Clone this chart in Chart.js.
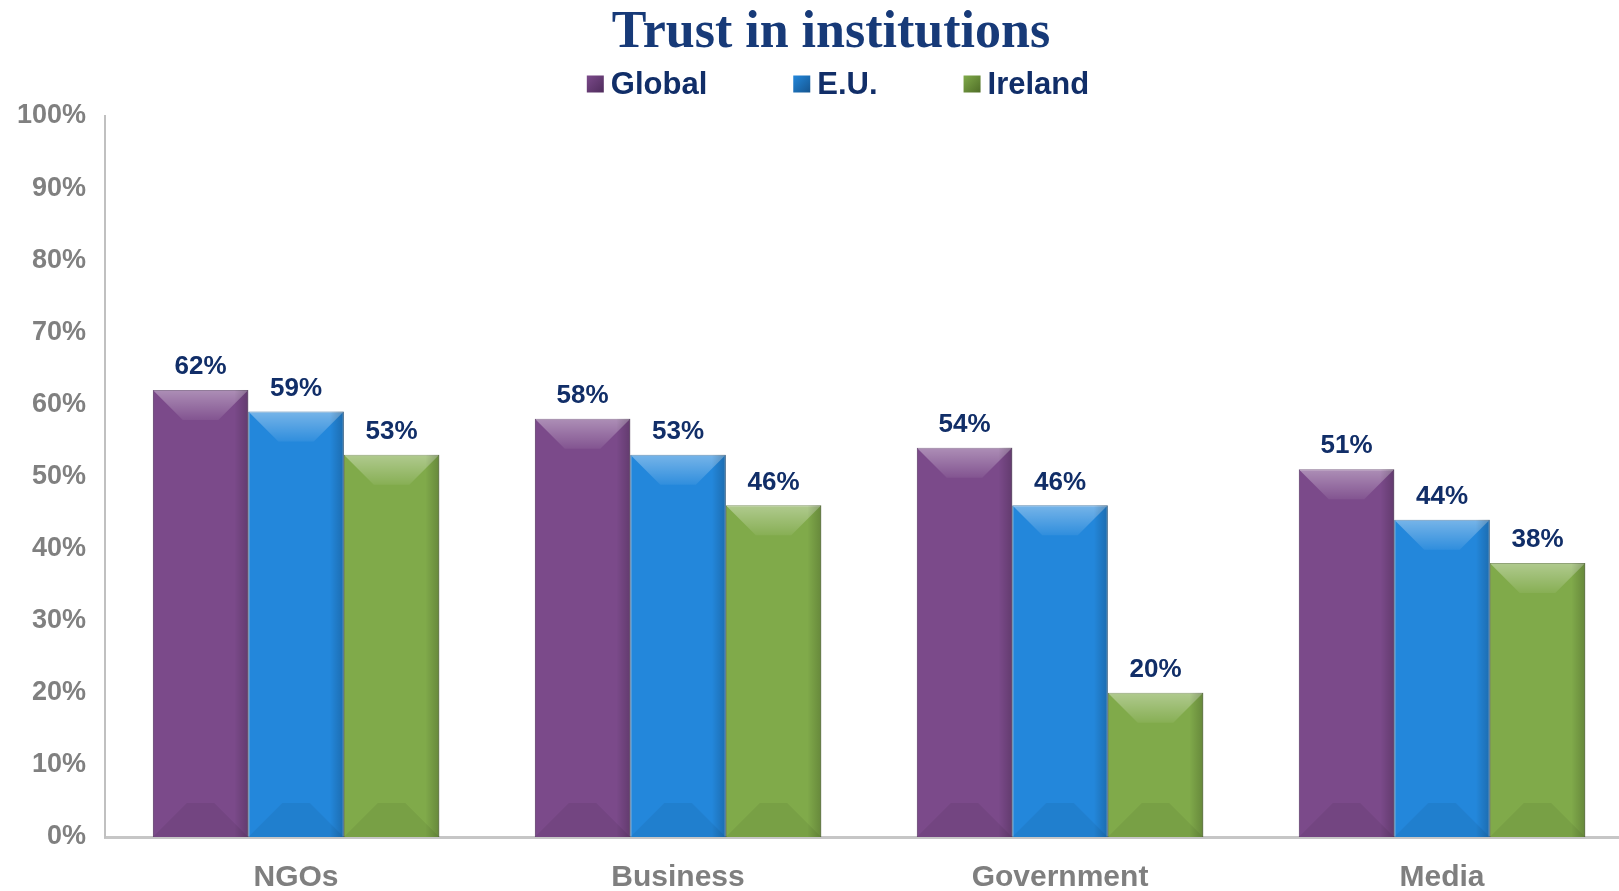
<!DOCTYPE html>
<html>
<head>
<meta charset="utf-8">
<title>Trust in institutions</title>
<script src="https://cdn.jsdelivr.net/npm/chart.js@4.4.1/dist/chart.umd.min.js"></script>
<style>
  html, body { margin: 0; padding: 0; overflow: hidden; background: #fff; }
  #wrap { position: absolute; left: 0; top: 0; width: 1640px; height: 919px; }
</style>
</head>
<body>
<div id="wrap"><canvas id="trustChart"></canvas></div>
<script>
// Survey results, % trusting each institution
const categories = ['NGOs', 'Business', 'Government', 'Media'];
const seriesNames = ['Global', 'E.U.', 'Ireland'];
const globalValues = [62, 58, 54, 51];
const euValues = [59, 53, 46, 44];
const irelandValues = [53, 46, 20, 38];
const yTickValues = [0, 10, 20, 30, 40, 50, 60, 70, 80, 90, 100];
const chartTitle = 'Trust in institutions';

const fills = ['#7b4a8a', '#2387db', '#80aa4a'];
const edges = ['#4f2c5c', '#15558f', '#4f6d27'];
const navy = '#112e68';

// bevel look: lighter top face, darker bottom face, shaded right edge
const bevelPlugin = {
    id: 'bevel',
    afterDatasetsDraw(chart) {
        const ctx = chart.ctx;
        ctx.save();
        chart.data.datasets.forEach((ds, i) => {
            chart.getDatasetMeta(i).data.forEach(bar => {
                const { x, y, base, width } = bar.getProps(['x', 'y', 'base', 'width'], true);
                const l = x - width / 2, r = x + width / 2;
                const h = base - y;
                const d = Math.min(30, h / 2);

                let g = ctx.createLinearGradient(0, y, 0, y + d);
                g.addColorStop(0, 'rgba(255,255,255,0.38)');
                g.addColorStop(1, 'rgba(255,255,255,0.06)');
                ctx.fillStyle = g;
                ctx.beginPath();
                ctx.moveTo(l, y); ctx.lineTo(r, y);
                ctx.lineTo(r - d, y + d); ctx.lineTo(l + d, y + d);
                ctx.closePath(); ctx.fill();

                const b = Math.min(34, h / 2);
                ctx.fillStyle = 'rgba(0,0,0,0.06)';
                ctx.beginPath();
                ctx.moveTo(l, base); ctx.lineTo(r, base);
                ctx.lineTo(r - b, base - b); ctx.lineTo(l + b, base - b);
                ctx.closePath(); ctx.fill();

                g = ctx.createLinearGradient(r - 14, 0, r, 0);
                g.addColorStop(0, 'rgba(0,0,0,0)');
                g.addColorStop(1, 'rgba(0,0,0,0.2)');
                ctx.fillStyle = g;
                ctx.fillRect(r - 14, y, 14, h);
            });
        });
        ctx.restore();
    }
};

// value labels above each bar
const valueLabels = {
    id: 'valueLabels',
    afterDatasetsDraw(chart) {
        const ctx = chart.ctx;
        ctx.save();
        ctx.font = 'bold 26px "Liberation Sans", Arial, sans-serif';
        ctx.fillStyle = navy;
        ctx.textAlign = 'center';
        ctx.textBaseline = 'middle';
        chart.data.datasets.forEach((ds, i) => {
            chart.getDatasetMeta(i).data.forEach((bar, j) => {
                ctx.fillText(ds.data[j] + '%', bar.x, bar.y - 23);
            });
        });
        ctx.restore();
    }
};

// title and legend row above the plot
const header = {
    id: 'header',
    afterDraw(chart) {
        const ctx = chart.ctx;
        const cx = 831;
        ctx.save();
        ctx.font = 'bold 52px "Liberation Serif", "Times New Roman", serif';
        ctx.fillStyle = '#173a78';
        ctx.textAlign = 'center';
        ctx.textBaseline = 'alphabetic';
        ctx.fillText(chartTitle, cx, 47);

        const box = 17, textGap = 7, itemGap = 86, cy = 84;
        ctx.textAlign = 'left';
        ctx.textBaseline = 'middle';
        ctx.font = 'bold 31px "Liberation Sans", Arial, sans-serif';
        const items = chart.data.datasets.map((ds, i) => ({
            text: ds.label, color: fills[i], edge: edges[i],
            w: box + textGap + ctx.measureText(ds.label).width
        }));
        const total = items.reduce((s, it) => s + it.w, 0) + itemGap * (items.length - 1);
        let x = cx + 7 - total / 2;
        items.forEach(it => {
            const g = ctx.createLinearGradient(x, cy - box / 2, x + box, cy + box / 2);
            g.addColorStop(0, it.color);
            g.addColorStop(1, it.edge);
            ctx.fillStyle = g;
            ctx.fillRect(x, cy - box / 2, box, box);
            ctx.fillStyle = navy;
            ctx.fillText(it.text, x + box + textGap, cy + 1);
            x += it.w + itemGap;
        });
        ctx.restore();
    }
};

const ctx = document.getElementById('trustChart').getContext('2d');
new Chart(ctx, {
    type: 'bar',
    data: {
        labels: categories,
        datasets: [globalValues, euValues, irelandValues].map((vals, i) => ({
            label: seriesNames[i],
            data: vals,
            backgroundColor: fills[i],
            borderColor: edges[i],
            borderWidth: 1,
            borderSkipped: 'bottom',
            barPercentage: 1,
            categoryPercentage: 0.75
        }))
    },
    options: {
        responsive: true,
        maintainAspectRatio: false,
        animation: false,
        layout: { padding: { top: 116, left: -2, right: 7, bottom: 0 } },
        plugins: {
            legend: { display: false },
            tooltip: { enabled: false },
            title: { display: false }
        },
        scales: {
            x: {
                grid: { display: false, drawTicks: false },
                border: { display: true, color: '#c6c6c6', width: 3 },
                ticks: {
                    color: '#7f7f7f',
                    padding: 23,
                    font: { family: '"Liberation Sans", Arial, sans-serif', size: 30, weight: 'bold', lineHeight: 1.2 }
                }
            },
            y: {
                min: 0,
                max: 100,
                afterBuildTicks(scale) { scale.ticks = yTickValues.map(v => ({ value: v })); },
                grid: { display: false, drawTicks: false },
                border: { display: true, color: '#c0c0c0', width: 2 },
                ticks: {
                    color: '#808080',
                    padding: 19,
                    font: { family: '"Liberation Sans", Arial, sans-serif', size: 27, weight: 'bold' },
                    callback: v => v + '%'
                }
            }
        }
    },
    plugins: [bevelPlugin, valueLabels, header]
});
</script>
</body>
</html>
